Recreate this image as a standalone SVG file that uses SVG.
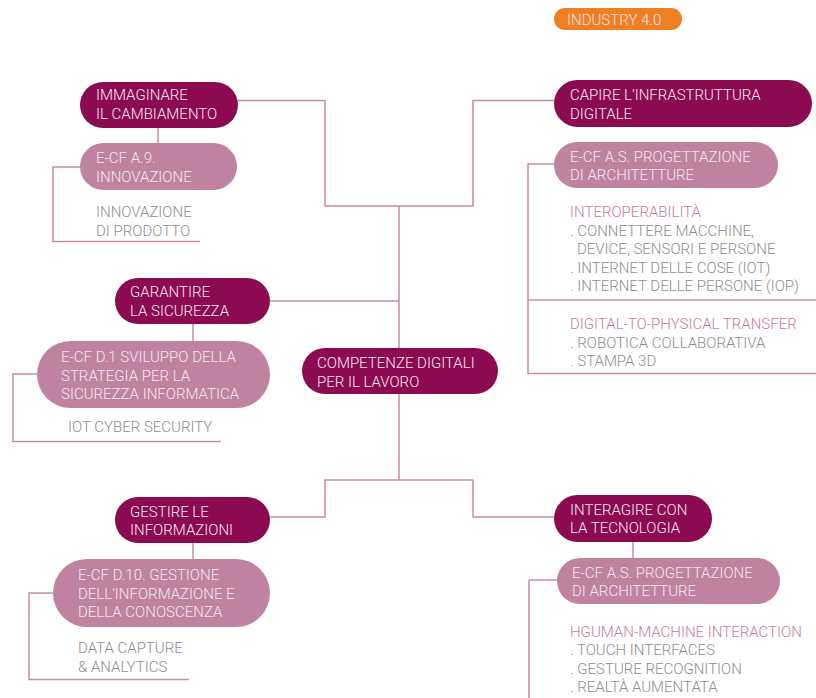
<svg xmlns="http://www.w3.org/2000/svg" width="816" height="698" viewBox="0 0 816 698">
  <defs>
    <style>
      text { font-family: Roboto, "Liberation Sans", Arial, sans-serif; font-size: 15px; font-weight: 300; }
      .dark { fill: #8C0B50; }
      .light { fill: #BF82A1; }
      .orange { fill: #EE7F22; }
      .t-node { fill: #F6E6EF; }
      .t-gray { fill: #8E8E8E; }
      .t-pink { fill: #C77CA4; }
      #connectors path { fill: none; stroke: #C98BAC; stroke-width: 1.5; }
    </style>
  </defs>
  <rect width="816" height="698" fill="#FFFFFF"/>

  <!-- connectors -->
  <g id="connectors">
    <!-- trunk -->
    <path d="M238,100.5 H325 V206 H473 V100.5 H554"/>
    <path d="M399,206 V348"/>
    <path d="M399,394 V480"/>
    <path d="M270,301 H399"/>
    <path d="M270,517 H325 V480 H473 V517 H554"/>
    <!-- branches -->
    <path d="M158,128 V143"/>
    <path d="M80,167 H53 V241.5 H200"/>
    <path d="M193,324 V341"/>
    <path d="M37,374 H13 V441.5 H221"/>
    <path d="M193,543 V559"/>
    <path d="M53,593 H29 V679.5 H189"/>
    <path d="M633,542 V558"/>
    <path d="M557,580 H529 V698"/>
    <path d="M554,164 H528 V373.5 H816"/>
    <path d="M528,300 H816"/>
  </g>

  <g id="industry">
    <rect class="orange" x="554" y="8" width="128" height="22" rx="11"/>
    <text class="t-node" x="567" y="24.5">INDUSTRY 4.0</text>
  </g>

  <g id="immaginare">
    <rect class="dark" x="80" y="82" width="158" height="46" rx="23"/>
    <text class="t-node" x="96" y="100">IMMAGINARE</text>
    <text class="t-node" x="96" y="118.5">IL CAMBIAMENTO</text>
  </g>

  <g id="ecf-a9">
    <rect class="light" x="80" y="143" width="157" height="47" rx="23.5"/>
    <text class="t-node" x="96" y="163">E-CF A.9.</text>
    <text class="t-node" x="96" y="181.5">INNOVAZIONE</text>
  </g>

  <g id="innovazione-prodotto">
    <text class="t-gray" x="96" y="217">INNOVAZIONE</text>
    <text class="t-gray" x="96" y="235.5">DI PRODOTTO</text>
  </g>

  <g id="capire">
    <rect class="dark" x="554" y="80" width="258" height="47" rx="23.5"/>
    <text class="t-node" x="570" y="99.5">CAPIRE L’INFRASTRUTTURA</text>
    <text class="t-node" x="570" y="118.5">DIGITALE</text>
  </g>

  <g id="ecf-as-top">
    <rect class="light" x="554" y="142" width="224" height="46" rx="23"/>
    <text class="t-node" x="570" y="161.5">E-CF A.S. PROGETTAZIONE</text>
    <text class="t-node" x="570" y="180">DI ARCHITETTURE</text>
  </g>

  <g id="interoperabilita">
    <text class="t-pink" x="570" y="217">INTEROPERABILITÀ</text>
    <text class="t-gray" x="570" y="235.5">. CONNETTERE MACCHINE,</text>
    <text class="t-gray" x="577" y="254">DEVICE, SENSORI E PERSONE</text>
    <text class="t-gray" x="570" y="272.5">. INTERNET DELLE COSE (IOT)</text>
    <text class="t-gray" x="570" y="291">. INTERNET DELLE PERSONE (IOP)</text>
  </g>

  <g id="digital-physical">
    <text class="t-pink" x="570" y="329">DIGITAL-TO-PHYSICAL TRANSFER</text>
    <text class="t-gray" x="570" y="347.5">. ROBOTICA COLLABORATIVA</text>
    <text class="t-gray" x="570" y="366">. STAMPA 3D</text>
  </g>

  <g id="garantire">
    <rect class="dark" x="115" y="278" width="155" height="46" rx="23"/>
    <text class="t-node" x="130" y="297">GARANTIRE</text>
    <text class="t-node" x="130" y="316">LA SICUREZZA</text>
  </g>

  <g id="ecf-d1">
    <rect class="light" x="37" y="341" width="233" height="67" rx="33.5"/>
    <text class="t-node" x="61" y="362">E-CF D.1 SVILUPPO DELLA</text>
    <text class="t-node" x="61" y="380.5">STRATEGIA PER LA</text>
    <text class="t-node" x="61" y="399">SICUREZZA INFORMATICA</text>
  </g>

  <g id="iot-security">
    <text class="t-gray" x="68" y="432">IOT CYBER SECURITY</text>
  </g>

  <g id="competenze">
    <rect class="dark" x="302" y="348" width="196" height="46" rx="23"/>
    <text class="t-node" x="317" y="368">COMPETENZE DIGITALI</text>
    <text class="t-node" x="317" y="386.5">PER IL LAVORO</text>
  </g>

  <g id="gestire">
    <rect class="dark" x="115" y="497" width="155" height="46" rx="23"/>
    <text class="t-node" x="130" y="516.5">GESTIRE LE</text>
    <text class="t-node" x="130" y="535">INFORMAZIONI</text>
  </g>

  <g id="ecf-d10">
    <rect class="light" x="53" y="559" width="217" height="68" rx="34"/>
    <text class="t-node" x="78" y="580">E-CF D.10. GESTIONE</text>
    <text class="t-node" x="78" y="598.5">DELL’INFORMAZIONE E</text>
    <text class="t-node" x="78" y="617">DELLA CONOSCENZA</text>
  </g>

  <g id="data-capture">
    <text class="t-gray" x="78" y="653">DATA CAPTURE</text>
    <text class="t-gray" x="78" y="671.5">&amp; ANALYTICS</text>
  </g>

  <g id="interagire">
    <rect class="dark" x="554" y="495" width="158" height="47" rx="23.5"/>
    <text class="t-node" x="570" y="514.5">INTERAGIRE CON</text>
    <text class="t-node" x="570" y="533">LA TECNOLOGIA</text>
  </g>

  <g id="ecf-as-bottom">
    <rect class="light" x="557" y="558" width="223" height="46" rx="23"/>
    <text class="t-node" x="572" y="577.5">E-CF A.S. PROGETTAZIONE</text>
    <text class="t-node" x="572" y="596">DI ARCHITETTURE</text>
  </g>

  <g id="human-machine">
    <text class="t-pink" x="570" y="636.5">HGUMAN-MACHINE INTERACTION</text>
    <text class="t-gray" x="570" y="655">. TOUCH INTERFACES</text>
    <text class="t-gray" x="570" y="673.5">. GESTURE RECOGNITION</text>
    <text class="t-gray" x="570" y="692">. REALTÀ AUMENTATA</text>
  </g>
</svg>
